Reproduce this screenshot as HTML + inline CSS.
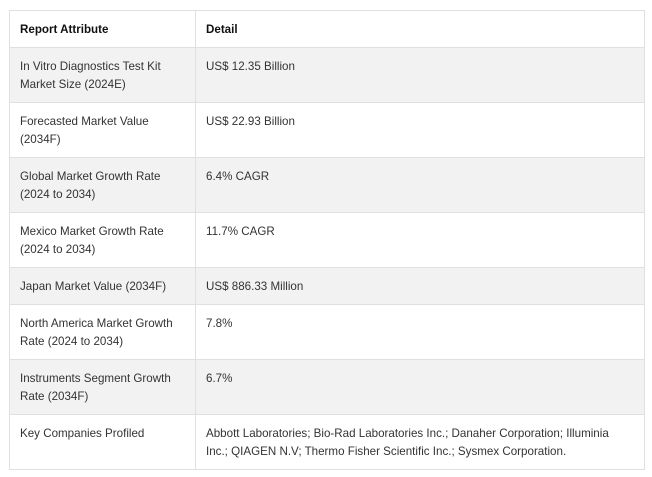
<!DOCTYPE html>
<html><head><style>
body{margin:0;background:#fff;}
table{position:absolute;left:9px;top:10px;width:636px;border-collapse:collapse;font-family:"Liberation Sans",Arial,sans-serif;font-size:11.6px;line-height:18px;color:#333;}
td,th{border:1px solid #e0e0e0;padding:10px 10px 8px 10px;text-align:left;vertical-align:top;}
th{font-weight:bold;color:#111;}
td:first-child,th:first-child{width:165px;}
tr:nth-child(even) td{background:#f2f2f2;}
</style></head><body>
<table>
<tr><th>Report Attribute</th><th>Detail</th></tr>
<tr><td>In Vitro Diagnostics Test Kit Market Size (2024E)</td><td>US$ 12.35 Billion</td></tr>
<tr><td>Forecasted Market Value (2034F)</td><td>US$ 22.93 Billion</td></tr>
<tr><td>Global Market Growth Rate (2024 to 2034)</td><td>6.4% CAGR</td></tr>
<tr><td>Mexico Market Growth Rate (2024 to 2034)</td><td>11.7% CAGR</td></tr>
<tr><td>Japan Market Value (2034F)</td><td>US$ 886.33 Million</td></tr>
<tr><td>North America Market Growth Rate (2024 to 2034)</td><td>7.8%</td></tr>
<tr><td>Instruments Segment Growth Rate (2034F)</td><td>6.7%</td></tr>
<tr><td>Key Companies Profiled</td><td>Abbott Laboratories; Bio-Rad Laboratories Inc.; Danaher Corporation; Illuminia<br>Inc.; QIAGEN N.V; Thermo Fisher Scientific Inc.; Sysmex Corporation.</td></tr>
</table>
</body></html>
